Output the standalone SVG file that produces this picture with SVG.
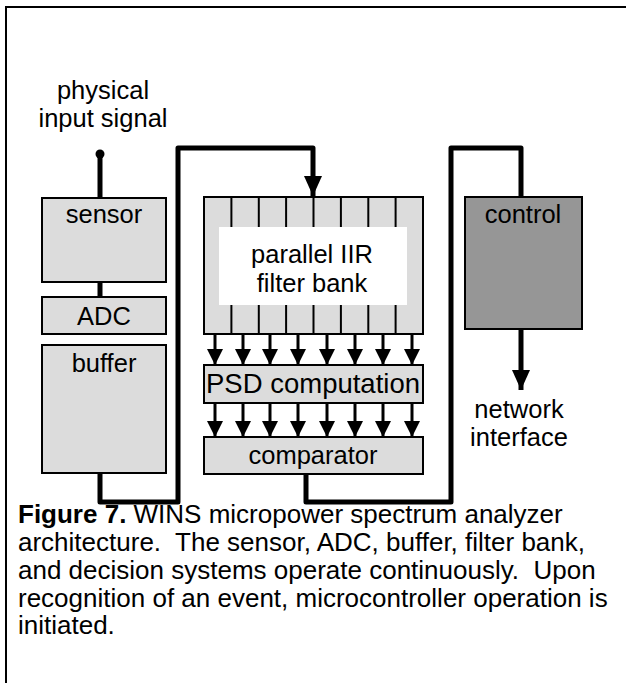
<svg xmlns="http://www.w3.org/2000/svg" width="626" height="683" viewBox="0 0 626 683">
<style>
text{font-family:"Liberation Sans",Arial,sans-serif;font-size:25.5px;fill:#000}
.cap{white-space:pre;font-size:26px}
.box{fill:#dcdcdc;stroke:#000;stroke-width:2}
.wire{fill:none;stroke:#000;stroke-width:5;stroke-linejoin:round}
.thin{stroke:#000;stroke-width:2}
.c{text-anchor:middle}
</style>
<defs>
<marker id="ah" markerUnits="userSpaceOnUse" markerWidth="20" markerHeight="18" refX="20" refY="9" orient="auto">
<path d="M0,0 L20,9 L0,18 Z" fill="#000"/>
</marker>
<marker id="sh" markerUnits="userSpaceOnUse" markerWidth="16" markerHeight="16" refX="16" refY="8" orient="auto">
<path d="M0,0 L16,8 L0,16 Z" fill="#000"/>
</marker>
</defs>
<rect width="626" height="683" fill="#fff"/>
<path d="M6,683 V7 H626" fill="none" stroke="#000" stroke-width="2"/>

<g id="input-label">
<text class="c" x="103" y="99">physical</text>
<text class="c" x="103" y="127">input signal</text>
</g>

<g id="connectors">
<path class="wire" d="M100,154 V198"/>
<circle cx="100" cy="154" r="4.5" fill="#000"/>
<path class="wire" d="M100,282 V297"/>
<path class="wire" d="M100,473 V502 H178 V148 H313 V196" marker-end="url(#ah)"/>
<path class="wire" d="M306,474 V502 H451 V148 H521 V198"/>
<path class="wire" d="M521,329 V390" marker-end="url(#ah)"/>
<g stroke="#000" stroke-width="3">
<line x1="215" y1="334" x2="215" y2="365" marker-end="url(#sh)"/>
<line x1="243" y1="334" x2="243" y2="365" marker-end="url(#sh)"/>
<line x1="270" y1="334" x2="270" y2="365" marker-end="url(#sh)"/>
<line x1="298" y1="334" x2="298" y2="365" marker-end="url(#sh)"/>
<line x1="327" y1="334" x2="327" y2="365" marker-end="url(#sh)"/>
<line x1="355" y1="334" x2="355" y2="365" marker-end="url(#sh)"/>
<line x1="383" y1="334" x2="383" y2="365" marker-end="url(#sh)"/>
<line x1="412" y1="334" x2="412" y2="365" marker-end="url(#sh)"/>
<line x1="215" y1="403" x2="215" y2="437" marker-end="url(#sh)"/>
<line x1="243" y1="403" x2="243" y2="437" marker-end="url(#sh)"/>
<line x1="270" y1="403" x2="270" y2="437" marker-end="url(#sh)"/>
<line x1="298" y1="403" x2="298" y2="437" marker-end="url(#sh)"/>
<line x1="327" y1="403" x2="327" y2="437" marker-end="url(#sh)"/>
<line x1="355" y1="403" x2="355" y2="437" marker-end="url(#sh)"/>
<line x1="383" y1="403" x2="383" y2="437" marker-end="url(#sh)"/>
<line x1="412" y1="403" x2="412" y2="437" marker-end="url(#sh)"/>
</g>
</g>

<g id="sensor">
<rect class="box" x="42" y="198" width="124" height="84"/>
<text class="c" x="104" y="223">sensor</text>
</g>
<g id="adc">
<rect class="box" x="42" y="297" width="124" height="37"/>
<text class="c" x="104" y="325">ADC</text>
</g>
<g id="buffer">
<rect class="box" x="42" y="345" width="124" height="128"/>
<text class="c" x="104" y="372">buffer</text>
</g>
<g id="filterbank">
<rect class="box" x="204" y="197" width="219" height="137"/>
<g class="thin">
<line x1="231.4" y1="197" x2="231.4" y2="334"/>
<line x1="258.8" y1="197" x2="258.8" y2="334"/>
<line x1="286.1" y1="197" x2="286.1" y2="334"/>
<line x1="313.5" y1="197" x2="313.5" y2="334"/>
<line x1="340.9" y1="197" x2="340.9" y2="334"/>
<line x1="368.3" y1="197" x2="368.3" y2="334"/>
<line x1="395.6" y1="197" x2="395.6" y2="334"/>
</g>
<rect x="219" y="227" width="188" height="78" fill="#fff"/>
<text class="c" x="312" y="263">parallel IIR</text>
<text class="c" x="312" y="292">filter bank</text>
</g>
<g id="psd">
<rect class="box" x="204" y="365" width="219" height="38"/>
<text class="c" x="313" y="393" style="font-size:27.5px">PSD computation</text>
</g>
<g id="comparator">
<rect class="box" x="204" y="437" width="219" height="37"/>
<text class="c" x="313" y="464">comparator</text>
</g>
<g id="control">
<rect x="465" y="197" width="117" height="132" fill="#969696" stroke="#000" stroke-width="2"/>
<text class="c" x="523" y="223">control</text>
</g>
<g id="network-label">
<text class="c" x="519" y="418">network</text>
<text class="c" x="519" y="446">interface</text>
</g>

<g id="caption">
<text class="cap" x="18" y="523"><tspan font-weight="bold">Figure 7.</tspan> WINS micropower spectrum analyzer</text>
<text class="cap" x="18" y="551">architecture.  The sensor, ADC, buffer, filter bank,</text>
<text class="cap" x="18" y="579">and decision systems operate continuously.  Upon</text>
<text class="cap" x="18" y="607">recognition of an event, microcontroller operation is</text>
<text class="cap" x="18" y="634">initiated.</text>
</g>
</svg>
